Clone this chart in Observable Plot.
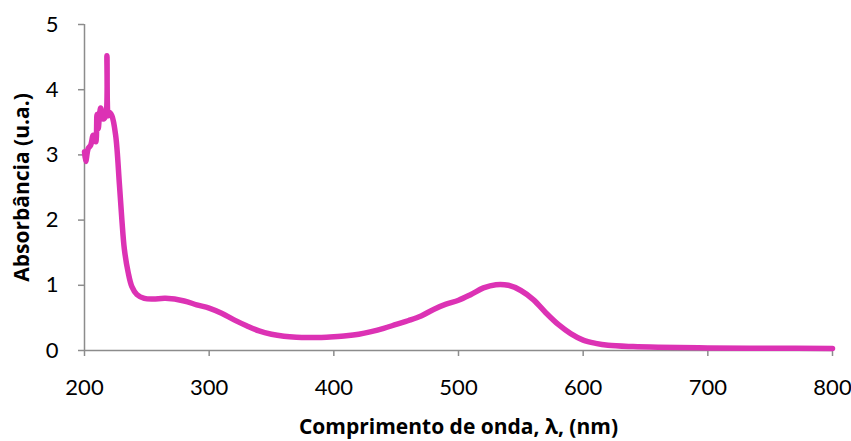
<!DOCTYPE html>
<html>
<head>
<meta charset="utf-8">
<script src="https://cdn.jsdelivr.net/npm/d3@7"></script>
<script src="https://cdn.jsdelivr.net/npm/@observablehq/plot@0.6"></script>
<style>
  html, body { margin: 0; padding: 0; background: #fff; }
</style>
</head>
<body>
<div id="chart"></div>
<script>
const wavelength = [200, 201, 203, 205, 207, 209, 210, 211, 212, 213, 215, 217, 218, 219, 220, 222, 225, 228, 230, 232, 235, 238, 242, 248, 255, 265, 280, 290, 300, 310, 320, 330, 340, 350, 360, 370, 380, 390, 400, 410, 420, 430, 440, 450, 460, 470, 480, 490, 500, 510, 520, 530, 540, 550, 560, 570, 580, 590, 600, 610, 620, 640, 660, 700, 750, 800];
const absorbance = [3.05, 2.9, 3.1, 3.15, 3.3, 3.2, 3.62, 3.4, 3.6, 3.72, 3.55, 3.6, 4.52, 3.6, 3.65, 3.6, 3.3, 2.55, 2.0, 1.55, 1.2, 0.98, 0.86, 0.8, 0.79, 0.8, 0.76, 0.7, 0.65, 0.57, 0.47, 0.38, 0.3, 0.25, 0.22, 0.205, 0.2, 0.2, 0.21, 0.225, 0.25, 0.29, 0.34, 0.4, 0.46, 0.53, 0.63, 0.71, 0.77, 0.86, 0.96, 1.01, 1.0, 0.92, 0.78, 0.58, 0.4, 0.26, 0.16, 0.11, 0.08, 0.06, 0.05, 0.04, 0.035, 0.03];
const xTicks = [200, 300, 400, 500, 600, 700, 800];
const yTicks = [0, 1, 2, 3, 4, 5];
const xTitle = "Comprimento de onda, λ, (nm)";
const yTitle = "Absorbância (u.a.)";

const data = wavelength.map((w, i) => ({w, a: absorbance[i]}));
const axisColor = "#8c8c8c";

const chart = Plot.plot({
  width: 851,
  height: 441,
  marginLeft: 84,
  marginRight: 19,
  marginTop: 24,
  marginBottom: 91,
  style: {fontFamily: "Lato, 'Open Sans', sans-serif", fontSize: "22px", color: "#000", background: "#fff"},
  x: {domain: [200, 800]},
  y: {domain: [0, 5]},
  marks: [
    Plot.ruleY([0], {stroke: axisColor, strokeWidth: 1.5}),
    Plot.ruleX([200], {stroke: axisColor, strokeWidth: 1.5}),
    Plot.axisX({ticks: xTicks, tickFormat: "d", tickSize: 6, tickPadding: 23, stroke: axisColor, strokeWidth: 1.5, fill: "#000", label: null, fontSize: 22}),
    Plot.axisY({ticks: yTicks, tickFormat: "d", tickSize: 6, tickPadding: 20, stroke: axisColor, strokeWidth: 1.5, fill: "#000", label: null, fontSize: 22}),
    Plot.line(data, {x: "w", y: "a", stroke: "#dc32b4", strokeWidth: 5.5, curve: "catmull-rom", strokeLinejoin: "round", strokeLinecap: "round"}),
    Plot.text([xTitle], {frameAnchor: "bottom", dy: 77, text: d => d, fontFamily: "'Open Sans', sans-serif", fontSize: 21, fontWeight: "bold", lineAnchor: "middle", textAnchor: "middle", fill: "#000"}),
    Plot.text([yTitle], {frameAnchor: "left", dx: -62, rotate: -90, text: d => d, fontFamily: "'Open Sans', sans-serif", fontSize: 21, fontWeight: "bold", lineAnchor: "middle", textAnchor: "middle", fill: "#000"})
  ]
});
document.getElementById("chart").appendChild(chart);
</script>
</body>
</html>
